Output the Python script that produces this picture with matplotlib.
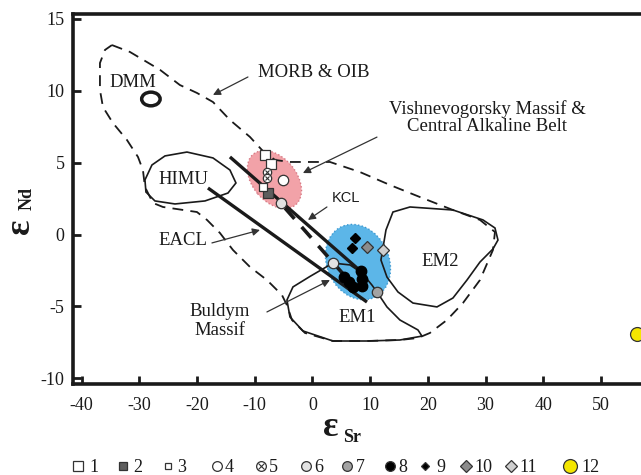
import numpy as np
import matplotlib
matplotlib.use("Agg")
import matplotlib.pyplot as plt
from matplotlib.patches import Ellipse, Polygon
from matplotlib.transforms import ScaledTranslation

plt.rcParams['font.family'] = ['Liberation Serif', 'DejaVu Serif']
plt.rcParams['axes.unicode_minus'] = False

# ---------------- data (eps Sr, eps Nd) ----------------
# MORB & OIB field (dashed)
morb_sr = [-34.75, -31.63, -26.43, -22.97, -20.02, -17.24, -14.30, -10.83, -8.75, -6.50,
           -3.90, 3.03, 8.23, 13.43, 18.63, 24.35, 29.03, 31.63, 31.28, 29.03,
           26.08, 23.31, 20.36, 18.28, 15.16, 9.45, 3.55, -1.30, -3.55, -4.42,
           -5.29, -7.89, -10.83, -13.78, -16.03, -18.28, -20.02, -25.91, -27.64, -29.03,
           -29.38, -30.24, -32.15, -34.58, -36.31, -36.83, -36.83, -35.96]
morb_nd = [13.18, 12.70, 11.46, 10.40, 9.85, 9.22, 7.97, 6.79, 5.88, 5.19,
           5.05, 5.05, 4.35, 3.45, 2.61, 1.71, 1.02, 0.18, -1.07, -3.16,
           -4.76, -5.94, -6.84, -7.19, -7.33, -7.40, -7.40, -6.84, -5.94, -4.91,
           -4.20, -3.16, -2.25, -1.07, 0.11, 1.02, 1.57, 1.92, 2.20, 3.31,
           4.49, 5.40, 6.58, 7.76, 8.87, 10.06, 11.93, 12.84]

himu_sr = [-29.03, -27.82, -25.56, -21.75, -17.24, -14.30, -13.26, -14.64, -18.63, -23.83, -27.30, -28.86]
himu_nd = [3.80, 4.84, 5.47, 5.74, 5.33, 4.49, 3.59, 2.89, 2.34, 2.13, 2.34, 2.96]

em1_sr = [3.55, 6.50, 8.58, 10.31, 11.18, 12.91, 15.16, 18.28, 18.98, 15.16,
          9.45, 3.55, -1.65, -3.90, -4.42, -3.38, -0.43]
em1_nd = [-1.98, -2.11, -2.67, -3.51, -3.99, -5.03, -5.94, -6.63, -7.06, -7.33,
          -7.40, -7.40, -6.70, -5.73, -4.55, -3.64, -2.91]

em2_sr = [13.95, 16.90, 24.35, 29.55, 31.63, 32.15, 31.28, 29.03, 26.78, 24.35,
          21.58, 17.42, 14.82, 12.91, 11.87, 12.22, 12.74]
em2_nd = [1.57, 1.92, 1.71, 1.02, 0.46, -0.38, -1.00, -1.91, -3.16, -4.41,
          -5.03, -4.76, -3.99, -2.95, -1.77, -0.93, 0.32]

dmm_center = (-28.0, 9.43)
dmm_size = (3.2, 0.95)

# mixing lines
kcl_sr = [-14.30, 9.10]
kcl_nd = [5.40, -2.81]
mid_sr = [-4.77, 5.98]
mid_nd = [1.85, -3.04]
eacl_sr = [-18.11, 9.45]
eacl_nd = [3.24, -4.69]

# sample groups 1..12
g1_sr, g1_nd = [-8.2, -7.2], [5.55, 4.9]
g2_sr, g2_nd = [-7.7], [2.9]
g3_sr, g3_nd = [-8.6], [3.3]
g4_sr, g4_nd = [-5.1], [3.8]
g5_sr, g5_nd = [-7.9, -7.9], [4.35, 3.95]
g6_sr, g6_nd = [-5.5, 3.55], [2.2, -1.98]
g7_sr, g7_nd = [11.2], [-4.0]
g8_sr = [8.4, 8.6, 8.6, 6.3, 7.0, 5.4]
g8_nd = [-2.55, -3.1, -3.55, -3.3, -3.65, -2.95]
g9_sr, g9_nd = [7.4, 6.85], [-0.25, -0.95]
g10_sr, g10_nd = [9.5], [-0.85]
g11_sr, g11_nd = [12.2], [-1.05]
g12_sr, g12_nd = [56.2], [-6.9]

legend_labels = ['1', '2', '3', '4', '5', '6', '7', '8', '9', '10', '11', '12']

# ---------------- figure ----------------
fig = plt.figure(figsize=(6.41, 4.75), dpi=100)
ax = fig.add_axes([73 / 641, 91 / 475, 577 / 641, 370 / 475])
ax.set_xlim(-41.5, 58.5)
ax.set_ylim(-10.39, 15.34)

ink = '#1a1a1a'

# coloured fields (sizes in inches so the tilt is drawn on screen)
def blob(cx, cy, w, h, ang, fc, ec):
    e = Ellipse((0, 0), w, h, angle=ang, facecolor=fc, edgecolor=ec, lw=1.0, ls=':',
                transform=fig.dpi_scale_trans + ScaledTranslation(cx, cy, ax.transData),
                zorder=1)
    ax.add_patch(e)

blob(-6.59, 3.83, 0.66, 0.44, -50, '#f2a2a8', '#d77a85')
blob(7.89, -1.91, 0.78, 0.62, -65, '#5cb6e8', '#3c98d0')

ax.add_patch(Polygon(np.column_stack([morb_sr, morb_nd]), closed=True, fill=False,
                     ec=ink, lw=1.3, ls=(0, (6, 4)), zorder=2))
for sr, nd in [(himu_sr, himu_nd), (em1_sr, em1_nd), (em2_sr, em2_nd)]:
    ax.add_patch(Polygon(np.column_stack([sr, nd]), closed=True, fill=False,
                         ec=ink, lw=1.2, zorder=2))
ax.add_patch(Ellipse(dmm_center, dmm_size[0], dmm_size[1], fill=False, ec=ink, lw=2.5, zorder=2))

ax.plot(kcl_sr, kcl_nd, color=ink, lw=2.4, zorder=3, solid_capstyle='butt')
ax.plot(eacl_sr, eacl_nd, color=ink, lw=2.4, zorder=3, solid_capstyle='butt')
ax.plot(mid_sr, mid_nd, color=ink, lw=2.6, ls=(0, (4, 3)), zorder=3)

# samples
edge = dict(mec='#333333', mew=0.9, ls='none', zorder=5)
ax.plot(g1_sr, g1_nd, 's', ms=6.5, mfc='white', **edge)
ax.plot(g2_sr, g2_nd, 's', ms=6.5, mfc='#5e5e5e', **edge)
ax.plot(g3_sr, g3_nd, 's', ms=5.5, mfc='white', **edge)
ax.plot(g4_sr, g4_nd, 'o', ms=7.5, mfc='white', **edge)
ax.plot(g5_sr, g5_nd, 'o', ms=6, mfc='white', **edge)
ax.plot(g5_sr, g5_nd, 'x', ms=3.5, mec='#333333', mew=0.8, ls='none', zorder=6)
ax.plot(g6_sr, g6_nd, 'o', ms=7.5, mfc='#e2e2e2', **edge)
ax.plot(g7_sr, g7_nd, 'o', ms=7.5, mfc='#a3a3a3', **edge)
ax.plot(g8_sr, g8_nd, 'o', ms=7.5, mfc='black', mec='black', ls='none', zorder=5)
ax.plot(g9_sr, g9_nd, 'D', ms=5.5, mfc='black', mec='black', ls='none', zorder=5)
ax.plot(g10_sr, g10_nd, 'D', ms=6.5, mfc='#8c8c8c', **edge)
ax.plot(g11_sr, g11_nd, 'D', ms=6.5, mfc='#cfcfcf', **edge)
ax.plot(g12_sr, g12_nd, 'o', ms=10, mfc='#f4e600', **edge)

# labels and arrows
lab = dict(fontsize=13.5, color=ink, ha='center', va='center', zorder=6)
ax.text(-31.1, 10.55, 'DMM', **lab)
ax.text(0.3, 11.3, 'MORB & OIB', **lab)
ax.text(30.3, 8.15, 'Vishnevogorsky Massif &\nCentral Alkaline Belt', linespacing=1.05, **lab)
ax.text(-22.3, 3.8, 'HIMU', **lab)
ax.text(-22.4, -0.38, 'EACL', **lab)
ax.text(22.1, -1.9, 'EM2', **lab)
ax.text(7.7, -5.75, 'EM1', **lab)
ax.text(-16.0, -6.0, 'Buldym\nMassif', linespacing=1.1, **lab)
ax.text(5.8, 2.55, 'KCL', fontsize=10.5, family='Liberation Sans', color=ink,
        ha='center', va='center', zorder=6)

arrows = [((-11.18, 10.96), (-17.24, 9.71)),
          ((11.18, 6.78), (-1.65, 4.28)),
          ((2.51, 1.92), (-0.78, 1.02)),
          ((-17.42, -0.58), (-9.10, 0.32)),
          ((-7.89, -5.38), (3.03, -3.16))]
for start, tip in arrows:
    ax.annotate('', xy=tip, xytext=start, zorder=6,
                arrowprops=dict(arrowstyle='-|>', color='#333333', lw=0.9,
                                mutation_scale=11, shrinkA=0, shrinkB=0))

# axes styling
for side in ['left', 'bottom', 'top']:
    ax.spines[side].set_linewidth(2.6)
    ax.spines[side].set_color(ink)
ax.spines['right'].set_visible(False)
ax.set_xticks(np.arange(-40, 51, 10))
ax.set_yticks(np.arange(-10, 16, 5))
ax.tick_params(direction='in', length=6, width=2, labelsize=13, color=ink, labelcolor=ink)
ax.tick_params(axis='x', pad=9)
ax.tick_params(axis='y', pad=6)

# overlay in pixel units for axis titles and the symbol key
lay = fig.add_axes([0, 0, 1, 1], zorder=-1)
lay.set_xlim(0, 641)
lay.set_ylim(475, 0)
lay.axis('off')

lay.text(331, 428, 'ε', fontsize=26, fontweight='bold', ha='center', va='center', color=ink)
lay.text(352, 437, 'Sr', fontsize=13, fontweight='bold', ha='center', va='center', color=ink)
lay.text(21, 226, 'ε', fontsize=26, fontweight='bold', ha='center', va='center', rotation=90, color=ink)
lay.text(27, 198, 'Nd', fontsize=13, fontweight='bold', ha='center', va='center', rotation=90, color=ink)

key_x = [78, 123, 168, 217, 261, 306, 347, 390, 425, 466, 511, 570]
key_tx = [89, 133, 177, 225, 269, 314, 356, 398, 436, 474, 519, 581]
key_style = [('s', 6.5, 'white'), ('s', 5.5, '#5e5e5e'), ('s', 5, 'white'), ('o', 7, 'white'),
             ('o', 7, 'white'), ('o', 7, '#e2e2e2'), ('o', 7, '#a3a3a3'), ('o', 7, 'black'),
             ('D', 4, 'black'), ('D', 6, '#8c8c8c'), ('D', 6, '#cfcfcf'), ('o', 10, '#f4e600')]
ky = 466
for x, tx, (m, s, c), t in zip(key_x, key_tx, key_style, legend_labels):
    lay.plot([x], [ky], m, ms=s, mfc=c, mec='#333333', mew=0.9)
    if t == '5':
        lay.plot([x], [ky], 'x', ms=3.8, mec='#333333', mew=0.8)
    lay.text(tx, ky + 1, t, fontsize=13, ha='left', va='center', color=ink)

fig.savefig('out.png', dpi=100)
